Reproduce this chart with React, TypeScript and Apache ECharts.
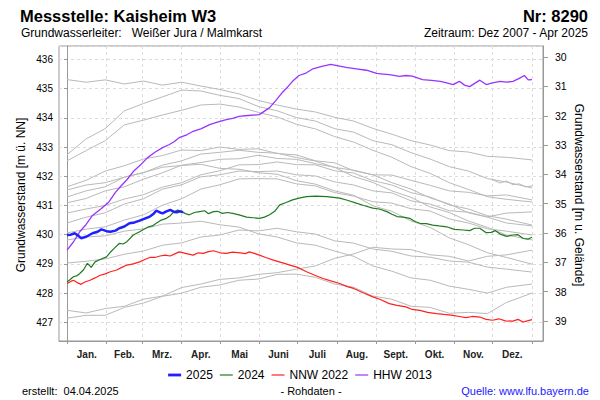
import React, { useEffect, useRef } from 'react';
import * as echarts from 'echarts';

const FONT = '"Liberation Sans", Arial, sans-serif';

const monthNames = ['Jan.', 'Feb.', 'Mrz.', 'Apr.', 'Mai', 'Juni', 'Juli', 'Aug.', 'Sept.', 'Okt.', 'Nov.', 'Dez.'];
const monthStarts = [0, 31, 59, 90, 120, 151, 181, 212, 243, 273, 304, 334, 365];

// Gray years sampled every ~15 days (day of year)
const grayDays = [0, 15, 30, 45, 60, 75, 90, 105, 120, 135, 150, 165, 180, 195, 210, 225, 240, 255, 270, 285, 300, 315, 330, 345, 365];
const gray2008 = [432.53, 432.88, 433.22, 433.76, 433.92, 434.10, 434.26, 434.44, 434.47, 434.37, 434.19, 434.03, 433.78, 433.62, 433.36, 433.17, 432.89, 432.65, 432.33, 432.10, 431.78, 431.55, 431.30, 431.21, 431.12];
const gray2009 = [431.29, 431.50, 431.64, 431.97, 432.12, 432.38, 432.53, 432.76, 432.82, 432.89, 432.82, 432.79, 432.64, 432.52, 432.30, 432.21, 432.05, 432.04, 431.86, 431.69, 431.50, 431.45, 431.33, 431.36, 431.19];
const gray2010 = [431.09, 431.24, 431.50, 431.64, 431.90, 432.12, 432.38, 432.47, 432.58, 432.60, 432.72, 432.61, 432.58, 432.43, 432.31, 431.99, 431.79, 431.50, 431.28, 430.95, 430.76, 430.47, 430.25, 429.99, 429.82];
const gray2011 = [431.53, 431.70, 431.78, 431.97, 432.13, 432.31, 432.37, 432.41, 432.27, 432.24, 432.12, 432.07, 431.85, 431.73, 431.50, 431.35, 430.99, 430.80, 430.47, 430.25, 429.89, 429.66, 429.38, 429.22, 428.99];
const gray2012 = [427.41, 427.32, 427.47, 427.55, 427.79, 427.90, 428.19, 428.31, 428.47, 428.52, 428.64, 428.70, 428.82, 428.93, 429.19, 429.34, 429.57, 429.51, 429.49, 429.31, 429.26, 429.10, 429.26, 429.31, 429.47];
const gray2014 = [435.31, 435.22, 435.30, 435.16, 435.26, 435.12, 435.22, 435.09, 434.97, 434.82, 434.60, 434.44, 434.30, 434.20, 434.02, 433.89, 433.64, 433.44, 433.22, 433.07, 432.88, 432.83, 432.68, 432.65, 432.56];
const gray2015 = [432.74, 433.28, 433.63, 434.24, 434.49, 434.72, 434.95, 434.92, 434.77, 434.66, 434.39, 434.24, 434.01, 433.89, 433.63, 433.51, 433.22, 433.08, 432.81, 432.59, 432.33, 432.18, 431.92, 431.80, 431.60];
const gray2016 = [431.64, 431.86, 432.18, 432.36, 432.59, 432.71, 432.90, 432.88, 433.00, 432.92, 432.94, 432.78, 432.73, 432.53, 432.46, 432.19, 432.05, 431.78, 431.56, 431.26, 431.05, 430.75, 430.60, 430.40, 430.30];
const gray2017 = [430.40, 430.60, 430.75, 431.05, 431.23, 431.56, 431.71, 431.98, 432.05, 432.18, 432.16, 432.18, 432.05, 432.01, 431.81, 431.70, 431.50, 431.43, 431.16, 431.05, 430.82, 430.77, 430.61, 430.74, 430.78];
const gray2018 = [430.74, 430.88, 431.00, 431.22, 431.37, 431.63, 431.78, 432.05, 432.19, 432.39, 432.40, 432.49, 432.40, 432.39, 432.19, 432.11, 431.85, 431.70, 431.44, 431.29, 431.02, 430.88, 430.65, 430.53, 430.33];
const gray2019 = [430.06, 430.19, 430.27, 430.50, 430.68, 431.01, 431.23, 431.56, 431.71, 431.91, 431.92, 431.91, 431.74, 431.67, 431.44, 431.32, 431.13, 431.08, 430.89, 430.81, 430.54, 430.40, 430.20, 430.12, 429.99];
const gray2020 = [429.03, 429.09, 429.17, 429.33, 429.44, 429.64, 429.72, 429.92, 429.99, 430.16, 430.13, 430.22, 430.10, 430.02, 429.79, 429.71, 429.51, 429.43, 429.27, 429.23, 429.10, 429.06, 428.89, 428.82, 428.72];
const gray2021 = [429.82, 429.92, 429.96, 430.12, 430.20, 430.36, 430.40, 430.46, 430.34, 430.26, 430.03, 429.92, 429.72, 429.64, 429.44, 429.26, 428.93, 428.75, 428.52, 428.44, 428.24, 428.13, 428.00, 428.20, 428.31];
const gray2023 = [427.14, 427.24, 427.24, 427.51, 427.66, 427.89, 428.00, 428.20, 428.28, 428.44, 428.48, 428.64, 428.65, 428.54, 428.31, 428.20, 427.90, 427.79, 427.55, 427.51, 427.31, 427.34, 427.30, 427.68, 428.00];
const grayYears = ['2008', '2009', '2010', '2011', '2012', '2014', '2015', '2016', '2017', '2018', '2019', '2020', '2021', '2023'];
const grayLevels = [gray2008, gray2009, gray2010, gray2011, gray2012, gray2014, gray2015, gray2016, gray2017, gray2018, gray2019, gray2020, gray2021, gray2023];

const days2007 = [334, 340, 345, 350, 355, 360, 365];
const levels2007 = [431.88, 431.77, 431.84, 431.71, 431.74, 431.64, 431.67];

const hhw2013Days = [0, 5, 10, 15, 20, 27, 33, 38, 42, 47, 52, 58, 63, 69, 75, 80, 84, 88, 94, 99, 105, 112, 118, 125, 130, 135, 142, 151, 159, 164, 169, 173, 177, 182, 187, 193, 200, 207, 213, 219, 227, 235, 243, 248, 253, 261, 266, 271, 279, 286, 293, 298, 303, 308, 312, 316, 320, 324, 329, 334, 340, 345, 350, 355, 359, 362, 365];
const hhw2013Levels = [429.47, 429.75, 430.10, 430.35, 430.66, 430.90, 431.13, 431.45, 431.65, 431.88, 432.16, 432.40, 432.63, 432.82, 432.98, 433.08, 433.18, 433.32, 433.42, 433.54, 433.62, 433.77, 433.85, 433.94, 433.98, 434.05, 434.08, 434.11, 434.35, 434.60, 434.87, 435.05, 435.25, 435.45, 435.52, 435.68, 435.76, 435.83, 435.78, 435.73, 435.68, 435.63, 435.52, 435.50, 435.48, 435.42, 435.45, 435.43, 435.31, 435.28, 435.25, 435.20, 435.14, 435.25, 435.12, 435.07, 435.18, 435.29, 435.14, 435.20, 435.25, 435.22, 435.25, 435.35, 435.45, 435.30, 435.31];

const y2024Days = [0, 2, 5, 8, 10, 13, 16, 19, 22, 26, 31, 34, 37, 41, 44, 47, 52, 57, 60, 64, 67, 70, 74, 78, 81, 84, 87, 90, 93, 96, 100, 104, 108, 111, 115, 118, 122, 126, 130, 135, 141, 146, 151, 155, 159, 163, 167, 172, 177, 182, 188, 195, 204, 209, 214, 220, 227, 233, 240, 245, 251, 255, 259, 264, 269, 273, 277, 282, 287, 292, 298, 304, 311, 316, 320, 324, 329, 333, 336, 340, 345, 350, 354, 358, 362, 365];
const y2024Levels = [428.38, 428.45, 428.56, 428.60, 428.67, 428.80, 429.02, 428.88, 429.07, 429.15, 429.24, 429.40, 429.53, 429.70, 429.68, 429.76, 429.99, 430.10, 430.18, 430.27, 430.30, 430.39, 430.50, 430.56, 430.65, 430.79, 430.84, 430.79, 430.72, 430.68, 430.76, 430.79, 430.82, 430.72, 430.79, 430.80, 430.73, 430.76, 430.73, 430.68, 430.60, 430.58, 430.56, 430.60, 430.68, 430.80, 431.02, 431.10, 431.19, 431.25, 431.30, 431.32, 431.30, 431.28, 431.25, 431.18, 431.08, 431.00, 430.91, 430.88, 430.79, 430.70, 430.62, 430.60, 430.56, 430.45, 430.39, 430.38, 430.33, 430.30, 430.27, 430.18, 430.16, 430.14, 430.22, 430.22, 430.07, 430.08, 430.14, 430.02, 429.94, 429.99, 430.00, 429.87, 429.85, 429.91];

const nnw2022Days = [0, 3, 5, 8, 11, 14, 18, 22, 26, 30, 34, 39, 43, 47, 52, 57, 61, 65, 69, 73, 77, 81, 85, 88, 93, 99, 103, 107, 111, 115, 120, 125, 130, 136, 140, 143, 147, 151, 156, 162, 168, 175, 181, 188, 194, 201, 207, 214, 220, 225, 232, 240, 246, 253, 259, 266, 271, 277, 283, 290, 296, 303, 308, 313, 318, 324, 329, 334, 339, 344, 350, 354, 358, 362, 365];
const nnw2022Levels = [428.33, 428.40, 428.44, 428.36, 428.30, 428.38, 428.44, 428.52, 428.61, 428.66, 428.73, 428.79, 428.88, 428.96, 429.00, 429.07, 429.15, 429.22, 429.22, 429.27, 429.30, 429.27, 429.35, 429.41, 429.36, 429.30, 429.38, 429.36, 429.42, 429.45, 429.38, 429.36, 429.40, 429.38, 429.35, 429.41, 429.36, 429.30, 429.22, 429.13, 429.05, 428.96, 428.88, 428.73, 428.62, 428.50, 428.42, 428.33, 428.22, 428.16, 428.02, 427.87, 427.78, 427.64, 427.58, 427.53, 427.44, 427.41, 427.34, 427.30, 427.27, 427.24, 427.20, 427.16, 427.20, 427.18, 427.10, 427.07, 427.12, 427.05, 427.04, 427.10, 427.01, 427.06, 427.09];

const y2025Days = [0, 3, 6, 9, 11, 15, 20, 24, 27, 31, 34, 38, 41, 45, 49, 53, 57, 61, 65, 68, 70, 73, 75, 78, 81, 84, 86, 89, 91];
const y2025Levels = [429.99, 430.00, 430.05, 429.96, 429.88, 429.93, 430.05, 430.10, 430.18, 430.12, 430.10, 430.14, 430.22, 430.28, 430.39, 430.42, 430.48, 430.55, 430.62, 430.72, 430.82, 430.76, 430.73, 430.80, 430.85, 430.78, 430.77, 430.80, 430.77];

const legendNames = ['2025', '2024', 'NNW 2022', 'HHW 2013'];

const zip = (d: number[], v: number[]) => d.map((x, i) => [x, v[i]]);
const monthMids = monthStarts.slice(0, 12).map((s, i) => (s + monthStarts[i + 1]) / 2);

// legend line icons (invisible move-to points fix the bounding box so the bar keeps its thickness)
const thinIcon = 'path://M0,0 M13,6 M0,2.4 L13,2.4 L13,3.6 L0,3.6 Z';
const thickIcon = 'path://M0,0 M13,6 M0,1.6 L13,1.6 L13,4.4 L0,4.4 Z';

function buildOption(): any {
  const gridStyle = { color: '#dcdcdc', type: [3, 3], width: 1 };
  const series: any[] = [];
  grayYears.forEach((y, i) => {
    series.push({
      name: y, type: 'line', data: zip(grayDays, grayLevels[i]), symbol: 'none', showSymbol: false,
      lineStyle: { color: '#b9b9b9', width: 1 }, itemStyle: { color: '#b9b9b9' }, silent: true, z: 2,
    });
  });
  series.push({
    name: '2007', type: 'line', data: zip(days2007, levels2007), symbol: 'none', showSymbol: false,
    lineStyle: { color: '#b9b9b9', width: 1 }, itemStyle: { color: '#b9b9b9' }, silent: true, z: 2,
  });
  series.push({
    name: 'NNW 2022', type: 'line', data: zip(nnw2022Days, nnw2022Levels), symbol: 'none', showSymbol: false,
    lineStyle: { color: '#ff2020', width: 1.2 }, itemStyle: { color: '#ff2020' }, z: 3,
  });
  series.push({
    name: 'HHW 2013', type: 'line', data: zip(hhw2013Days, hhw2013Levels), symbol: 'none', showSymbol: false,
    lineStyle: { color: '#9933ff', width: 1.3 }, itemStyle: { color: '#9933ff' }, z: 4,
  });
  series.push({
    name: '2024', type: 'line', data: zip(y2024Days, y2024Levels), symbol: 'none', showSymbol: false,
    lineStyle: { color: '#1f7a1f', width: 1.2 }, itemStyle: { color: '#1f7a1f' }, z: 5,
  });
  series.push({
    name: '2025', type: 'line', data: zip(y2025Days, y2025Levels), symbol: 'none', showSymbol: false,
    lineStyle: { color: '#2020ff', width: 2.5 }, itemStyle: { color: '#2020ff' }, z: 6,
  });

  return {
    animation: false,
    textStyle: { fontFamily: FONT },
    grid: {
      left: 59, right: 57, top: 46, bottom: 59, show: true,
      borderColor: '#999', borderWidth: 1, backgroundColor: 'transparent',
      containLabel: false, outerBoundsMode: 'none',
    },
    legend: {
      data: legendNames.map((n, i) => ({ name: n, icon: i === 0 ? thickIcon : thinIcon })),
      top: 364, left: 'center', orient: 'horizontal',
      itemWidth: 13, itemHeight: 6, itemGap: 7,
      textStyle: { fontSize: 12, color: '#000', fontFamily: FONT },
      selectedMode: false,
    },
    xAxis: {
      type: 'value', min: -6.3, max: 373.6,
      axisLine: { show: true, lineStyle: { color: '#999' } },
      axisTick: { show: true, customValues: monthStarts, length: 3, lineStyle: { color: '#999' } },
      axisLabel: {
        customValues: monthMids,
        formatter: (v: number) => {
          const idx = monthMids.findIndex((m) => Math.abs(m - v) < 0.01);
          return idx >= 0 ? monthNames[idx] : '';
        },
        margin: 8, fontSize: 10, fontWeight: 'bold', color: '#222', fontFamily: FONT,
      },
      splitLine: { show: true, lineStyle: gridStyle },
    },
    yAxis: [
      {
        type: 'value', position: 'left', min: 426.36, max: 436.46, splitNumber: 10,
        axisLine: { show: true, lineStyle: { color: '#999' } },
        axisTick: { show: true, length: 3, lineStyle: { color: '#999' } },
        axisLabel: { fontSize: 10, color: '#000', margin: 6, showMinLabel: false, showMaxLabel: false, fontFamily: FONT,
          formatter: (v: number) => (Math.abs(v - Math.round(v)) < 1e-6 ? String(Math.round(v)) : '') },
        splitLine: { show: true, lineStyle: gridStyle },
      },
      {
        type: 'value', position: 'right', inverse: true, min: 29.62, max: 39.685, splitNumber: 10,
        axisLine: { show: true, lineStyle: { color: '#999' } },
        axisTick: { show: true, length: 5, lineStyle: { color: '#999' } },
        axisLabel: { fontSize: 10.5, color: '#000', margin: 12, showMinLabel: false, showMaxLabel: false, fontFamily: FONT,
          formatter: (v: number) => (Math.abs(v - Math.round(v)) < 1e-6 ? String(Math.round(v)) : '') },
        splitLine: { show: false },
      },
    ],
    graphic: [
      { type: 'text', x: 20, y: 16, style: { text: 'Messstelle: Kaisheim W3', fill: '#000', font: `bold 16.5px ${FONT}`, align: 'left', verticalAlign: 'middle' } },
      { type: 'text', x: 588, y: 16, style: { text: 'Nr: 8290', fill: '#000', font: `bold 16.5px ${FONT}`, align: 'right', verticalAlign: 'middle' } },
      { type: 'text', x: 21, y: 33, style: { text: 'Grundwasserleiter:   Weißer Jura / Malmkarst', fill: '#000', font: `12px ${FONT}`, align: 'left', verticalAlign: 'middle' } },
      { type: 'text', x: 588, y: 33, style: { text: 'Zeitraum: Dez 2007 - Apr 2025', fill: '#000', font: `12px ${FONT}`, align: 'right', verticalAlign: 'middle' } },
      { type: 'text', x: 21, y: 195, rotation: Math.PI / 2, style: { text: 'Grundwasserstand [m ü. NN]', fill: '#000', font: `12px ${FONT}`, align: 'center', verticalAlign: 'middle' } },
      { type: 'text', x: 579, y: 195, rotation: -Math.PI / 2, style: { text: 'Grundwasserstand [m u. Gelände]', fill: '#000', font: `12px ${FONT}`, align: 'center', verticalAlign: 'middle' } },
      { type: 'text', x: 22, y: 391, style: { text: 'erstellt:  04.04.2025', fill: '#000', font: `11px ${FONT}`, align: 'left', verticalAlign: 'middle' } },
      { type: 'text', x: 311, y: 391, style: { text: '- Rohdaten -', fill: '#000', font: `11px ${FONT}`, align: 'center', verticalAlign: 'middle' } },
      { type: 'text', x: 589, y: 391, style: { text: 'Quelle: www.lfu.bayern.de', fill: '#1a1aff', font: `11px ${FONT}`, align: 'right', verticalAlign: 'middle' } },
    ],
    series,
  };
}

export default function App() {
  const ref = useRef<HTMLDivElement>(null);
  useEffect(() => {
    document.body.style.margin = '0';
    if (!ref.current) return;
    const chart = echarts.init(ref.current, null, { renderer: 'svg' });
    chart.setOption(buildOption());
    return () => chart.dispose();
  }, []);
  return <div ref={ref} style={{ width: 600, height: 400, background: '#fff' }} />;
}
